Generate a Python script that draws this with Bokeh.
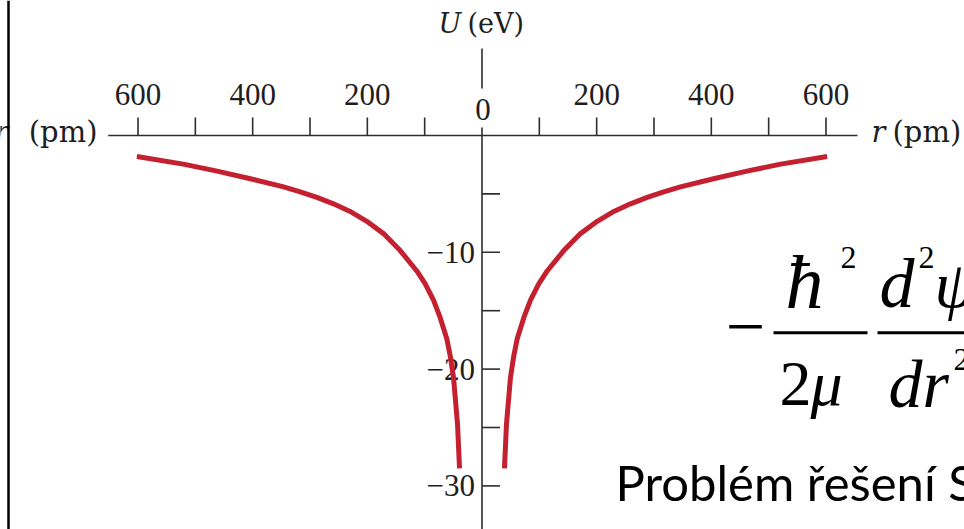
from bokeh.plotting import figure
from bokeh.models import Range1d, Span
from bokeh.core.properties import value
from bokeh.embed import file_html
from bokeh.resources import INLINE

# Potential energy of the electron in the hydrogen atom, U(r), right branch (r > 0)
r_pm = [39.2, 42.7, 49.7, 55.5, 61.4, 72.9, 84.6, 99.0, 113.7, 142.7, 171.8,
        201.0, 230.0, 259.0, 288.0, 317.0, 346.0, 404.0, 462.0, 521.0, 602.0]
u_ev = [-28.5, -24.7, -20.7, -18.85, -17.4, -15.6, -14.1, -12.7, -11.6, -9.85, -8.4,
        -7.35, -6.5, -5.85, -5.3, -4.82, -4.4, -3.7, -3.05, -2.45, -1.8]

# the same curve mirrored to the left of the nucleus
r_left_pm = [-r for r in r_pm]

# tick marks and labels
r_ticks = [-600, -500, -400, -300, -200, -100, 100, 200, 300, 400, 500, 600]
r_label_pos = [-600, -400, -200, 200, 400, 600]
r_label_txt = ["600", "400", "200", "200", "400", "600"]
u_ticks = [-5, -10, -15, -20, -25, -30]
u_label_pos = [-10, -20, -30]
u_label_txt = ["\u221210", "\u221220", "\u221230"]

# ---- layout (pixels) ----
W, H = 964, 529
X0_PX, PX_PER_PM = 481.5, 0.5733     # screen x of r = 0, scale
Y0_PX, PX_PER_EV = 135.0, 11.68      # screen y of U = 0, scale
TICK_PX = 18
AXIS_HALF_PM = 652

RED = "#c4202f"
AXIS = "#2e2e2e"
LABEL_INK = "#1e1e1e"
SERIF = "Liberation Serif"
TITLE_SERIF = "DejaVu Serif"


def dx(px):
    return (px - X0_PX) / PX_PER_PM


def dy(py):
    return (Y0_PX - py) / PX_PER_EV


p = figure(width=W, height=H, output_backend="svg", toolbar_location=None,
           x_range=Range1d(dx(0), dx(W)), y_range=Range1d(dy(H), dy(0)),
           x_axis_location=None, y_axis_location=None, min_border=0)
p.grid.visible = False
p.outline_line_color = None
p.background_fill_color = "white"
p.border_fill_color = "white"

# frame line on the left
p.add_layout(Span(location=dx(8), dimension="height", line_color="black", line_width=2.5))

# r axis
p.segment(x0=[-AXIS_HALF_PM], y0=[0], x1=[AXIS_HALF_PM + 3], y1=[0],
          line_color=AXIS, line_width=1.6)
p.segment(x0=r_ticks, y0=[0] * len(r_ticks), x1=r_ticks,
          y1=[TICK_PX / PX_PER_EV] * len(r_ticks), line_color=AXIS, line_width=1.6)

# U axis (interrupted by the "0" label)
p.segment(x0=[0, 0], y0=[dy(48), dy(127)], x1=[0, 0], y1=[dy(88), dy(H + 5)],
          line_color=AXIS, line_width=1.6)
p.segment(x0=[0] * len(u_ticks), y0=u_ticks, x1=[TICK_PX / PX_PER_PM] * len(u_ticks),
          y1=u_ticks, line_color=AXIS, line_width=1.6)

# tick labels
p.text(x=r_label_pos, y=[0] * len(r_label_pos), text=r_label_txt,
       text_font=value(SERIF), text_font_size="31px", text_color=LABEL_INK,
       text_align="center", text_baseline="middle", y_offset=-41)
p.text(x=[0], y=[0], text=["0"], text_font=value(SERIF), text_font_size="31px",
       text_color=LABEL_INK, text_align="center", text_baseline="middle",
       x_offset=1, y_offset=-26)
p.text(x=[0] * len(u_label_pos), y=u_label_pos, text=u_label_txt,
       text_font=value(SERIF), text_font_size="31px", text_color=LABEL_INK,
       text_align="right", text_baseline="middle", x_offset=-7)

# the curve
p.line(r_pm, u_ev, line_color=RED, line_width=5, line_cap="butt", line_join="round")
p.line(r_left_pm, u_ev, line_color=RED, line_width=5, line_cap="butt", line_join="round")


def label(x_px, y_px, txt, size, font=SERIF, style="normal", align="left", color="black"):
    """Text placed at a screen position (y_px = vertical middle of the line)."""
    p.text(x=[dx(x_px)], y=[dy(y_px)], text=[txt], text_font=value(font),
           text_font_size=f"{size}px", text_font_style=style, text_align=align,
           text_baseline="middle", text_color=color)


# axis titles
label(438, 23, "U", 27, TITLE_SERIF, "italic", color=LABEL_INK)
label(467, 23, "(eV)", 27, TITLE_SERIF, color=LABEL_INK)
label(871, 131, "r", 29, TITLE_SERIF, "italic", color=LABEL_INK)
label(892, 131, "(pm)", 29, TITLE_SERIF, color=LABEL_INK)
label(-6, 131, "r", 29, TITLE_SERIF, "italic", color=LABEL_INK)
label(97, 131, "(pm)", 29, TITLE_SERIF, align="right", color=LABEL_INK)

# radial Schrödinger equation (kinetic term)
label(745, 326, "\u2212", 70, align="center")
label(785, 281, "\u0127", 76, style="italic")
label(840, 257, "2", 32)
label(779, 383, "2", 64)
label(810, 383, "\u03bc", 64, style="italic")
label(879, 283, "d", 70, style="italic")
label(918, 257, "2", 32)
label(934, 284, "\u03c8", 66, style="italic")
label(888, 383, "dr", 68, style="italic")
label(953, 359, "2", 32)
p.segment(x0=[dx(773), dx(877)], y0=[dy(332.3)] * 2, x1=[dx(867), dx(1000)],
          y1=[dy(332.3)] * 2, line_color="black", line_width=3)

label(615, 481, "Probl\u00e9m \u0159e\u0161en\u00ed Schr\u00f6dingerovy rovnice", 49, "Lato")

open("out.html", "w").write(file_html(p, INLINE))
